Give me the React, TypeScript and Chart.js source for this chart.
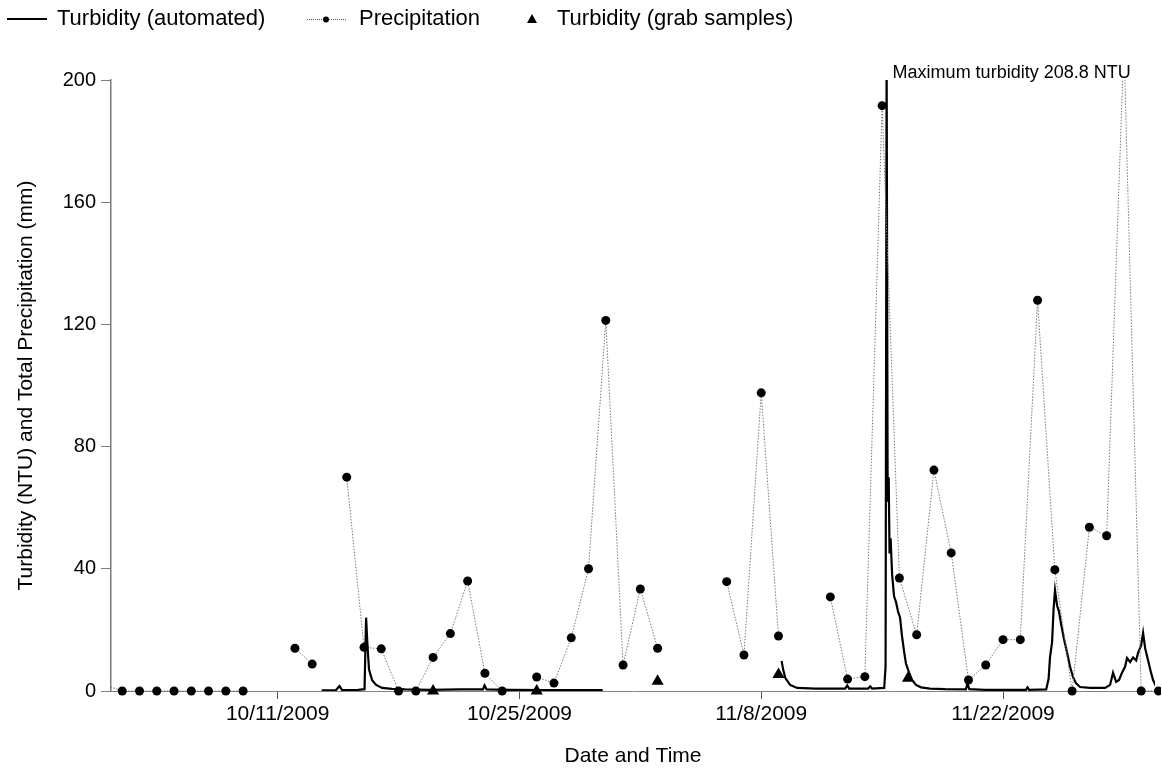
import React, { useEffect, useRef } from "react";
import { Chart, registerables } from "chart.js";

Chart.register(...registerables);

const FONT = "'Liberation Sans', Arial, Helvetica, sans-serif";

// x values are day numbers in October 2009 (day 32 = Nov 1, day 62 = Dec 1)
const xMinDay = 1.35;
const xMaxDay = 61.8;
const xTickDays = [11, 25, 39, 53];
const yMin = 0;
const yMax = 200;
const yStep = 40;

const precipDays = [
  1, 2, 3, 4, 5, 6, 7, 8, 9, 10, 11, 12, 13, 14, 15, 16, 17, 18, 19, 20, 21,
  22, 23, 24, 25, 26, 27, 28, 29, 30, 31, 32, 33, 34, 35, 36, 37, 38, 39, 40,
  41, 42, 43, 44, 45, 46, 47, 48, 49, 50, 51, 52, 53, 54, 55, 56, 57, 58, 59,
  60, 61, 62,
];
const precipValues = [
  2, 0, 0, 0, 0, 0, 0, 0, 0, null, null, 14, 8.8, null, 70, 14.3, 13.8, 0, 0,
  11, 18.8, 36, 5.8, 0, null, 4.6, 2.6, 17.4, 40, 121.3, 8.5, 33.4, 14, null,
  null, null, 35.8, 11.8, 97.6, 18, null, null, 30.8, 3.9, 4.7, 191.6, 37,
  18.4, 72.3, 45.2, 3.6, 8.5, 16.8, 16.8, 127.9, 39.7, 0, 53.6, 50.8, 212, 0, 0,
];

const turbDays = [
  13.55, 14.38, 14.58, 14.73, 15.66, 16.03, 16.12, 16.21, 16.29, 16.47, 16.7,
  17.05, 17.62, 18.38, 19.82, 21.56, 22.89, 22.98, 23.1, 24.46, 26.48, 28.22,
  29.82, 35,
  40.18, 40.27, 40.39, 40.67, 41.08, 42.12, 43.86, 43.98, 44.09, 45.19, 45.31,
  45.42, 46.12, 46.2, 46.26, 46.32, 46.38, 46.43, 46.49, 46.58, 46.69, 46.81,
  46.92, 47.04, 47.15, 47.27, 47.38, 47.56, 47.73, 47.96, 48.25, 48.77, 49.64,
  50.85, 50.94, 51.05, 51.96, 52.83, 54.33, 54.42, 54.51, 55.5, 55.64, 55.72,
  55.84, 55.93, 56.01, 56.13, 56.24, 56.36, 56.53, 56.71, 56.88, 57.05, 57.23,
  57.46, 58.04, 58.91, 59.2, 59.37, 59.55, 59.72, 59.89, 60.07, 60.18, 60.36,
  60.53, 60.71, 60.82, 61.0, 61.11, 61.23, 61.4, 61.57, 61.69, 61.86, 62.09,
];
const turbValues = [
  0.2, 0.3, 1.6, 0.3, 0.4, 0.6, 24, 14, 7, 3.5, 2, 1, 0.7, 0.5, 0.4, 0.5, 0.5,
  1.8, 0.5, 0.4, 0.3, 0.3, 0.3, null,
  9.8, 7, 4.3, 2, 1, 0.8, 0.8, 1.8, 0.8, 0.8, 1.5, 0.8, 1, 8, 208.8, 62, 70,
  45, 50, 38, 31, 29, 26, 24, 18, 13, 9, 6, 3.6, 2, 1.2, 0.8, 0.6, 0.5, 2.5,
  0.6, 0.4, 0.4, 0.4, 1.2, 0.4, 0.5, 4, 11, 16, 27, 33, 28, 26, 22, 17, 12.5,
  8, 4.6, 2.5, 1.3, 1, 1, 2, 6, 3, 3.6, 6, 8, 10.8, 9.5, 11, 10, 12.5, 15, 19,
  14, 10, 6, 3.6, 1.5, 0.8,
];

const grabDays = [20, 26, 33, 40, 47.5];
const grabValues = [0, 0, 3.2, 5.4, 4.2];

const peakDay = 46.26;
const peakLabel = "Maximum turbidity 208.8 NTU";

const seriesLabels = [
  "Turbidity (automated)",
  "Precipitation",
  "Turbidity (grab samples)",
];

function dayLabel(d: number): string {
  const dt = new Date(2009, 9, d);
  return `${dt.getMonth() + 1}/${dt.getDate()}/${dt.getFullYear()}`;
}

const overlayPlugin = {
  id: "overlay",
  afterDraw(chart: any) {
    const ctx: CanvasRenderingContext2D = chart.ctx;
    const labels = chart.data.datasets.map((d: any) => d.label);
    ctx.save();
    const ly = 19;
    ctx.font = `22px ${FONT}`;
    ctx.fillStyle = "#000";
    ctx.textBaseline = "middle";
    ctx.textAlign = "left";
    ctx.strokeStyle = "#000";
    ctx.lineWidth = 2;
    ctx.beginPath();
    ctx.moveTo(7, ly);
    ctx.lineTo(47, ly);
    ctx.stroke();
    ctx.fillText(labels[0], 57, ly);
    ctx.strokeStyle = "#555";
    ctx.lineWidth = 1;
    ctx.setLineDash([1, 1]);
    ctx.beginPath();
    ctx.moveTo(307, ly + 0.5);
    ctx.lineTo(347, ly + 0.5);
    ctx.stroke();
    ctx.setLineDash([]);
    ctx.beginPath();
    ctx.arc(326, ly + 0.5, 3, 0, Math.PI * 2);
    ctx.fill();
    ctx.fillText(labels[1], 359, ly);
    ctx.beginPath();
    ctx.moveTo(532, ly - 5);
    ctx.lineTo(537, ly + 4);
    ctx.lineTo(527, ly + 4);
    ctx.closePath();
    ctx.fill();
    ctx.fillText(labels[2], 557, ly);
    const px = chart.scales.x.getPixelForValue(peakDay) + 6;
    ctx.font = `18px ${FONT}`;
    ctx.textBaseline = "alphabetic";
    ctx.fillText(peakLabel, px, chart.chartArea.top - 2);
    ctx.restore();
  },
};

export default function App() {
  const canvasRef = useRef<HTMLCanvasElement | null>(null);

  useEffect(() => {
    const canvas = canvasRef.current;
    if (!canvas) return;

    const turbData = turbDays.map((d, i) => ({ x: d, y: turbValues[i] }));
    const precipData = precipDays.map((d, i) => ({ x: d, y: precipValues[i] }));
    const grabData = grabDays.map((d, i) => ({ x: d, y: grabValues[i] }));

    const chart = new Chart(canvas, {
      type: "line",
      data: {
        datasets: [
          {
            label: seriesLabels[0],
            data: turbData as any,
            borderColor: "#000",
            borderWidth: 2.2,
            pointRadius: 0,
            spanGaps: false,
            tension: 0,
            order: 2,
          },
          {
            label: seriesLabels[1],
            data: precipData as any,
            borderColor: "#7a7a7a",
            borderWidth: 1,
            borderDash: [1.5, 1.5],
            pointRadius: 4.5,
            pointBackgroundColor: "#000",
            pointBorderColor: "#000",
            pointBorderWidth: 0,
            spanGaps: false,
            tension: 0,
            clip: { left: 0, top: 0, right: 6, bottom: 8 } as any,
            order: 1,
          },
          {
            label: seriesLabels[2],
            data: grabData as any,
            showLine: false,
            pointStyle: "triangle",
            pointRadius: 7,
            pointBackgroundColor: "#000",
            pointBorderColor: "#000",
            pointBorderWidth: 0,
            clip: false as any,
            order: 0,
          },
        ],
      },
      options: {
        animation: false,
        responsive: false,
        devicePixelRatio: 1,
        layout: { padding: { top: 80, right: 2, left: 0, bottom: 0 } },
        plugins: {
          legend: { display: false },
          tooltip: { enabled: false },
        },
        scales: {
          x: {
            type: "linear",
            min: xMinDay,
            max: xMaxDay,
            afterBuildTicks: (scale: any) => {
              scale.ticks = xTickDays.map((v) => ({ value: v }));
            },
            afterFit: (scale: any) => {
              scale.height = 78;
              scale.paddingLeft = 0;
              scale.paddingRight = 0;
            },
            ticks: {
              autoSkip: false,
              maxRotation: 0,
              padding: 3,
              color: "#000",
              font: { family: FONT, size: 21 },
              callback: (v: any) => dayLabel(Number(v)),
            },
            grid: {
              drawOnChartArea: false,
              drawTicks: true,
              tickLength: 8,
              color: "#555",
              lineWidth: 1,
            },
            border: { display: true, color: "#808080", width: 1 },
            title: {
              display: true,
              text: "Date and Time",
              color: "#000",
              font: { family: FONT, size: 21 },
              padding: { top: 0, bottom: 0 },
            },
          },
          y: {
            type: "linear",
            min: yMin,
            max: yMax,
            afterFit: (scale: any) => {
              scale.width = 111;
            },
            ticks: {
              stepSize: yStep,
              padding: 5,
              color: "#000",
              font: { family: FONT, size: 20 },
            },
            grid: {
              drawOnChartArea: false,
              drawTicks: true,
              tickLength: 10,
              color: "#808080",
              lineWidth: 1,
            },
            border: { display: true, color: "#7a7a7a", width: 1.5 },
            title: {
              display: true,
              text: "Turbidity (NTU) and Total Precipitation (mm)",
              color: "#000",
              font: { family: FONT, size: 21 },
              padding: { top: 14, bottom: 0 },
            },
          },
        },
      },
      plugins: [overlayPlugin],
    });

    return () => {
      chart.destroy();
    };
  }, []);

  return (
    <div
      style={{
        position: "absolute",
        left: 0,
        top: 0,
        width: 1162,
        height: 769,
        background: "#fff",
      }}
    >
      <canvas ref={canvasRef} width={1162} height={769} />
    </div>
  );
}
